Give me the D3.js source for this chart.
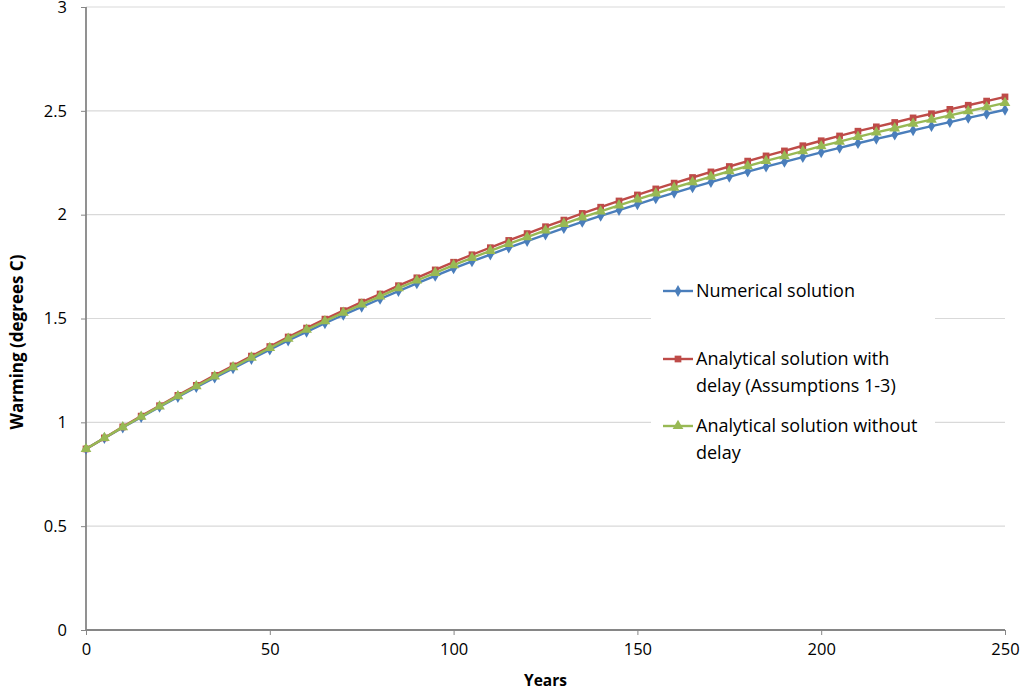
<!DOCTYPE html>
<html><head><meta charset="utf-8">
<script src="https://cdn.jsdelivr.net/npm/d3@7"></script>
<style>body{margin:0;background:#fff;} svg text{font-family:"Open Sans","Noto Sans",sans-serif;}</style>
</head><body><svg id="c" width="1025" height="694"></svg>
<script>
const years = d3.range(0, 251, 5);
const numerical = [0.872,0.924,0.975,1.025,1.074,1.122,1.169,1.215,1.260,1.305,1.350,
1.394,1.436,1.477,1.517,1.556,1.594,1.632,1.669,1.705,1.741,
1.775,1.808,1.841,1.873,1.904,1.935,1.965,1.994,2.022,2.050,
2.078,2.105,2.131,2.157,2.182,2.207,2.231,2.254,2.277,2.300,
2.322,2.344,2.365,2.385,2.406,2.426,2.446,2.466,2.485,2.505];
const withDelay = [0.872,0.925,0.978,1.030,1.080,1.130,1.178,1.226,1.272,1.319,1.365,
1.411,1.454,1.497,1.538,1.579,1.618,1.658,1.696,1.734,1.771,
1.807,1.841,1.876,1.909,1.942,1.974,2.006,2.036,2.066,2.095,
2.124,2.152,2.179,2.206,2.232,2.258,2.283,2.307,2.332,2.356,
2.379,2.402,2.423,2.444,2.466,2.486,2.507,2.527,2.547,2.567];
const withoutDelay = [0.872,0.925,0.977,1.027,1.077,1.126,1.174,1.221,1.266,1.312,1.358,
1.403,1.446,1.487,1.528,1.568,1.607,1.646,1.683,1.720,1.757,
1.792,1.826,1.859,1.892,1.924,1.956,1.987,2.016,2.045,2.074,
2.102,2.130,2.156,2.183,2.209,2.234,2.259,2.282,2.306,2.330,
2.352,2.375,2.396,2.416,2.438,2.458,2.478,2.498,2.518,2.538];
const xTicks = [0,50,100,150,200,250];
const yTicks = [0,0.5,1,1.5,2,2.5,3];
const seriesNames = ["Numerical solution","Analytical solution with|delay (Assumptions 1-3)","Analytical solution without|delay"];
const seriesColors = ["#4a7ebb","#be4b48","#98b954"];
const seriesShapes = [d3.symbolDiamond, d3.symbolSquare, d3.symbolTriangle];
const seriesSizes = [40, 45, 50];
const allSeries = [numerical, withDelay, withoutDelay];

const svg = d3.select("#c");
const L=86, R=1005, T=7, B=630;
const x = d3.scaleLinear().domain([0,250]).range([L,R]);
const y = d3.scaleLinear().domain([0,3]).range([B,T]);

// gridlines
svg.append("g").selectAll("line").data(yTicks.filter(d=>d>0)).join("line")
  .attr("x1",L).attr("x2",R).attr("y1",d=>y(d)).attr("y2",d=>y(d))
  .attr("stroke","#d9d9d9").attr("stroke-width",1.2);

// axes
const yAxis = svg.append("g").attr("transform",`translate(${L},0)`)
  .call(d3.axisLeft(y).tickValues(yTicks).tickSize(5).tickPadding(14).tickFormat(d3.format("")));
const xAxis = svg.append("g").attr("transform",`translate(0,${B})`)
  .call(d3.axisBottom(x).tickValues(xTicks).tickSize(5).tickPadding(8).tickFormat(d3.format("")));
[yAxis,xAxis].forEach(g=>{
  g.select(".domain").attr("stroke","#868686").attr("stroke-width",1.8);
  g.selectAll(".tick line").attr("stroke","#868686").attr("stroke-width",1);
  g.selectAll("text").attr("font-size",16.5).attr("fill","#000");
});
yAxis.select(".domain").attr("d",`M0,${T}V${B}`);
xAxis.select(".domain").attr("d",`M${L},0H${R}`);

// series
const line = d3.line().x((d,i)=>x(years[i])).y(d=>y(d));
allSeries.forEach((s,k)=>{
  const g = svg.append("g");
  g.append("path").datum(s).attr("d",line).attr("fill","none")
    .attr("stroke",seriesColors[k]).attr("stroke-width",2.4).attr("stroke-linejoin","round");
  g.selectAll("path.m").data(s).join("path").attr("class","m")
    .attr("transform",(d,i)=>`translate(${x(years[i])},${y(d)})`)
    .attr("d",d3.symbol().type(seriesShapes[k]).size(seriesSizes[k]))
    .attr("fill",seriesColors[k]);
});

// legend
const lg = svg.append("g");
lg.append("rect").attr("x",651).attr("y",268).attr("width",284).attr("height",200).attr("fill","#fff");
const legY = [291,359,426];
seriesNames.forEach((n,k)=>{
  lg.append("line").attr("x1",663).attr("x2",693).attr("y1",legY[k]).attr("y2",legY[k])
    .attr("stroke",seriesColors[k]).attr("stroke-width",2.4);
  lg.append("path").attr("transform",`translate(678,${legY[k]})`)
    .attr("d",d3.symbol().type(seriesShapes[k]).size(seriesSizes[k])).attr("fill",seriesColors[k]);
  n.split("|").forEach((t,j)=>{
    lg.append("text").attr("x",696).attr("y",legY[k]+j*26.5).attr("dy","0.35em")
      .attr("font-size",18).attr("fill","#000").text(t);
  });
});

// axis titles
svg.append("text").attr("x",(L+R)/2).attr("y",686).attr("text-anchor","middle")
  .attr("font-size",15.5).attr("font-weight","bold").text("Years");
svg.append("text").attr("transform",`translate(23,342) rotate(-90)`).attr("text-anchor","middle")
  .attr("font-size",17).attr("font-weight","bold").text("Warming (degrees C)");
</script></body></html>
